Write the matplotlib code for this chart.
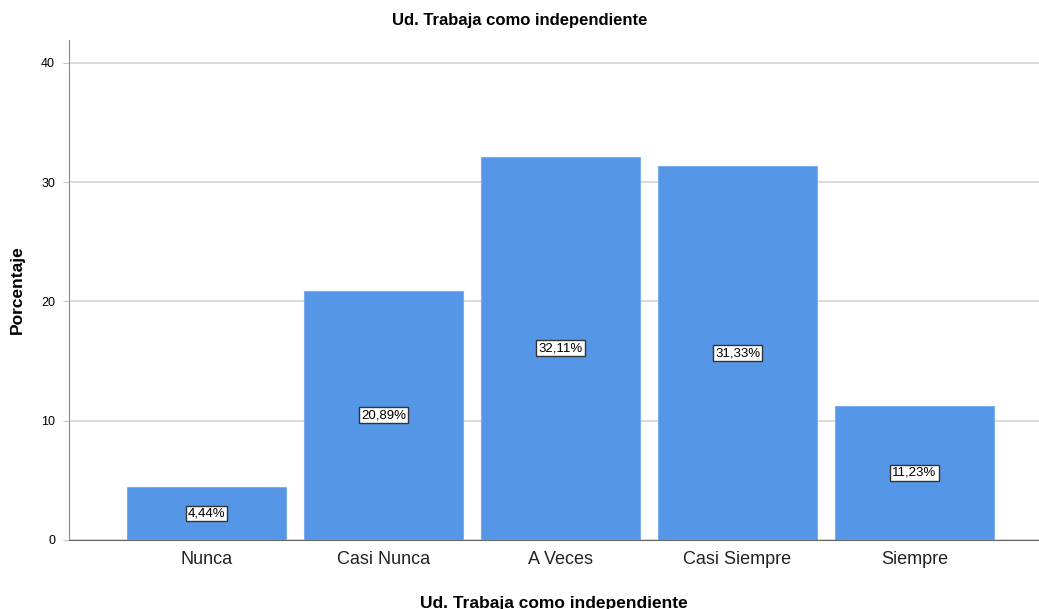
import matplotlib
matplotlib.use("Agg")
import matplotlib.pyplot as plt

plt.rcParams['font.family'] = ['Liberation Sans', 'DejaVu Sans']

categorias = ["Nunca", "Casi Nunca", "A Veces", "Casi Siempre", "Siempre"]
porcentajes = [4.44, 20.89, 32.11, 31.33, 11.23]
etiquetas = ["4,44%", "20,89%", "32,11%", "31,33%", "11,23%"]

fig = plt.figure(figsize=(10.39, 6.09), dpi=100)
ax = fig.add_axes([69 / 1039, 1 - 540 / 609, 1 - 69 / 1039, 500 / 609])

x = list(range(len(categorias)))
ax.bar(x, porcentajes, width=0.9, color="#5596e6", edgecolor="#7aaeee",
       linewidth=0.8, zorder=3)

for xi, v, t in zip(x, porcentajes, etiquetas):
    ax.text(xi, v / 2, t, ha="center", va="center", fontsize=9.5, zorder=4,
            bbox=dict(boxstyle="square,pad=0.15", fc="white", ec="#333333", lw=1))

ax.set_xlim(-0.777, 4.703)
ax.set_ylim(0, 41.9)
ax.set_yticks([0, 10, 20, 30, 40])
ax.yaxis.grid(True, color="#d4d4d4", linewidth=1.2, zorder=0)
ax.set_axisbelow(True)
ax.set_xticks(x)
ax.set_xticklabels(categorias, fontsize=13, color="#222222")
ax.tick_params(axis="x", length=0, pad=8)
ax.tick_params(axis="y", length=4, color="#c8c8c8", labelsize=9, pad=6)

for s in ["top", "right"]:
    ax.spines[s].set_visible(False)
ax.spines["left"].set_color("#888888")
ax.spines["bottom"].set_color("#666666")

ax.set_ylabel("Porcentaje", fontsize=12.5, fontweight="bold", labelpad=12)
ax.set_xlabel("Ud. Trabaja como independiente", fontsize=12.5, fontweight="bold", labelpad=20)
fig.text(0.5, 1 - 20 / 609, "Ud. Trabaja como independiente", ha="center", va="center",
         fontsize=12, fontweight="bold")

fig.savefig("out.png", dpi=100)
